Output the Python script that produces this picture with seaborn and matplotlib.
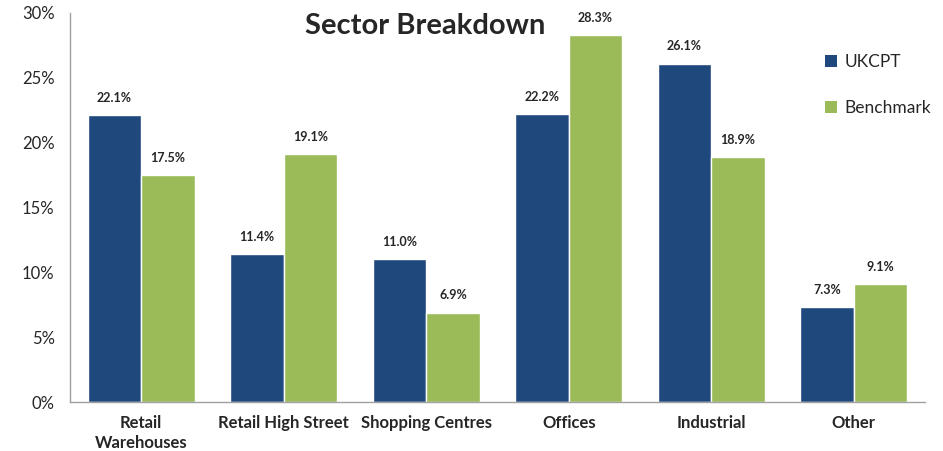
import matplotlib
matplotlib.use("Agg")
import matplotlib.pyplot as plt
import matplotlib.ticker as mticker
from matplotlib.patches import Patch
import seaborn as sns
import pandas as pd

sectors = ["Retail\nWarehouses", "Retail High Street", "Shopping Centres",
           "Offices", "Industrial", "Other"]
ukcpt = [22.1, 11.4, 11.0, 22.2, 26.1, 7.3]
benchmark = [17.5, 19.1, 6.9, 28.3, 18.9, 9.1]
series = ["UKCPT", "Benchmark"]
colors = ["#1F497D", "#9BBB59"]

df = pd.DataFrame({
    "Sector": sectors * 2,
    "Share": ukcpt + benchmark,
    "Series": [series[0]] * len(sectors) + [series[1]] * len(sectors),
})

sns.set_theme(style="white")
plt.rcParams["font.family"] = ["Lato", "DejaVu Sans"]

fig = plt.figure(figsize=(9.43, 4.51), dpi=100)
ax = fig.add_axes([0.0742, 0.1086, 0.9068, 0.8626])

sns.barplot(data=df, x="Sector", y="Share", hue="Series", palette=colors,
            width=0.75, saturation=1, ax=ax, legend=False)

ax.set_ylim(0, 30)
ax.set_xlim(-0.5, len(sectors) - 0.5)
ax.yaxis.set_major_locator(mticker.MultipleLocator(5))
ax.yaxis.set_major_formatter(mticker.FuncFormatter(lambda v, p: f"{v:.0f}%"))
ax.set_xlabel("")
ax.set_ylabel("")

# category boundary ticks on the x axis, labels centred without ticks
ax.set_xticks([i - 0.5 for i in range(len(sectors) + 1)], minor=True)
ax.tick_params(axis="x", which="major", length=0, pad=9, labelsize=12)
ax.tick_params(axis="x", which="minor", length=5, width=1, color="#A0A0A0",
               direction="out")
ax.tick_params(axis="y", length=5, width=1, color="#A0A0A0", direction="out",
               labelsize=12, pad=6)
for lbl in ax.get_xticklabels():
    lbl.set_fontweight("bold")
    lbl.set_linespacing(1.35)

for side in ["top", "right"]:
    ax.spines[side].set_visible(False)
for side in ["left", "bottom"]:
    ax.spines[side].set_color("#A0A0A0")
    ax.spines[side].set_linewidth(1)

for container in ax.containers:
    ax.bar_label(container, labels=[f"{b.get_height():.1f}%" for b in container],
                 padding=8, fontsize=9, fontweight="bold")

ax.text(0.415, 1.0, "Sector Breakdown", transform=ax.transAxes,
        ha="center", va="top", fontsize=21, fontweight="bold")

handles = [Patch(facecolor=c, edgecolor="none") for c in colors]
ax.legend(handles, series, loc="upper right", bbox_to_anchor=(1.025, 0.935),
          frameon=False, fontsize=12.5, handlelength=0.7, handleheight=0.7,
          handletextpad=0.4, labelspacing=1.75)

fig.savefig("out.png", dpi=100)
